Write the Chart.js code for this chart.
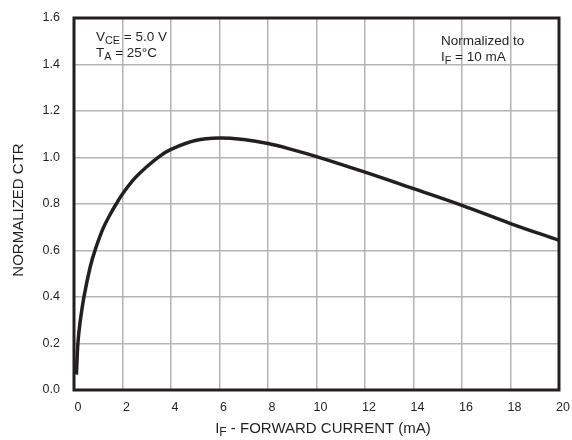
<!DOCTYPE html>
<html>
<head>
<meta charset="utf-8">
<script src="https://cdn.jsdelivr.net/npm/chart.js@4.4.1/dist/chart.umd.min.js"></script>
<style>
	html, body { margin: 0; padding: 0; background: #fff; }
	#wrap { width: 572px; height: 440px; }
</style>
</head>
<body>
<div id="wrap"><canvas id="ctr_chart" width="572" height="440"></canvas></div>
<script>
// forward current (mA) and normalized CTR
const currentMA = [0.1, 0.16, 0.25, 0.41, 0.67, 0.88, 1.2, 1.49, 1.74, 2, 2.5, 3, 3.5, 4, 5, 6, 7, 8, 9, 10, 12, 14, 16, 18, 20];
const normCTR = [0.066, 0.2, 0.29, 0.4, 0.53, 0.605, 0.695, 0.755, 0.8, 0.843, 0.91, 0.96, 1.003, 1.035, 1.073, 1.084, 1.077, 1.06, 1.034, 1.004, 0.937, 0.866, 0.794, 0.716, 0.644];
const xTicks = [0, 2, 4, 6, 8, 10, 12, 14, 16, 18, 20];
const yTicks = [0.0, 0.2, 0.4, 0.6, 0.8, 1.0, 1.2, 1.4, 1.6];

const FONT = '"Liberation Sans", Arial, Helvetica, sans-serif';
const INK = '#231f20';

// text with subscripts: parts = [[text, isSub], ...]
function drawSub(c, parts, x, y, size) {
	let cx = x;
	parts.forEach(function(p) {
		const s = p[1] ? size * 0.8 : size;
		c.font = s + 'px ' + FONT;
		c.fillText(p[0], cx, p[1] ? y + 3 : y);
		cx += c.measureText(p[0]).width;
	});
	return cx - x;
}

const framePlugin = {
	id: 'frame',
	afterDraw(chart) {
		const c = chart.ctx;
		const a = chart.chartArea;
		c.save();
		c.strokeStyle = INK;
		c.lineWidth = 3;
		c.strokeRect(a.left, a.top, a.right - a.left, a.bottom - a.top);

		c.fillStyle = INK;
		c.textBaseline = 'alphabetic';
		c.textAlign = 'left';
		drawSub(c, [['V', false], ['CE', true], [' = 5.0 V', false]], 96, 41, 13.5);
		drawSub(c, [['T', false], ['A', true], [' = 25°C', false]], 96, 57, 13.5);
		drawSub(c, [['Normalized to', false]], 441, 45, 13.5);
		drawSub(c, [['I', false], ['F', true], [' = 10 mA', false]], 441, 61, 13.5);

		// x axis title, centered
		const xParts = [['I', false], ['F', true], [' - FORWARD CURRENT (mA)', false]];
		let w = 0;
		xParts.forEach(function(p) {
			c.font = (p[1] ? 12 : 15) + 'px ' + FONT;
			w += c.measureText(p[0]).width;
		});
		drawSub(c, xParts, 323 - w / 2, 433, 15);

		// y axis title
		c.translate(23, 210);
		c.rotate(-Math.PI / 2);
		c.textAlign = 'center';
		c.font = '15px ' + FONT;
		c.fillText('NORMALIZED CTR', 0, 0);
		c.restore();
	}
};

const ctx = document.getElementById('ctr_chart');
const ctr_chart = new Chart(ctx, {
	type: 'scatter',
	data: {
		datasets: [{
			data: currentMA.map(function(v, i) { return { x: v, y: normCTR[i] }; }),
			showLine: true,
			borderColor: INK,
			borderWidth: 3.5,
			pointRadius: 0,
			tension: 0.4,
			fill: false
		}]
	},
	options: {
		responsive: false,
		animation: false,
		devicePixelRatio: 1,
		layout: { padding: { top: 18, right: 13, left: 0, bottom: 0 } },
		plugins: { legend: { display: false }, tooltip: { enabled: false } },
		scales: {
			x: {
				type: 'linear',
				min: 0,
				max: 20,
				afterBuildTicks: function(s) { s.ticks = xTicks.map(function(v) { return { value: v }; }); },
				afterFit: function(s) { s.height = 50; s.paddingLeft = 0; s.paddingRight = 0; },
				grid: { color: '#b4b4b4', lineWidth: 1.5, drawTicks: false },
				border: { display: false },
				ticks: { color: INK, font: { family: FONT, size: 12.5 }, padding: 10, labelOffset: 4, maxRotation: 0 }
			},
			y: {
				min: 0,
				max: 1.6,
				afterBuildTicks: function(s) { s.ticks = yTicks.map(function(v) { return { value: v }; }); },
				afterFit: function(s) { s.width = 74; s.paddingTop = 0; s.paddingBottom = 0; },
				grid: { color: '#b4b4b4', lineWidth: 1.5, drawTicks: false },
				border: { display: false },
				ticks: {
					color: INK,
					font: { family: FONT, size: 12.5 },
					padding: 14,
					callback: function(v) { return v.toFixed(1); }
				}
			}
		}
	},
	plugins: [framePlugin]
});
</script>
</body>
</html>
